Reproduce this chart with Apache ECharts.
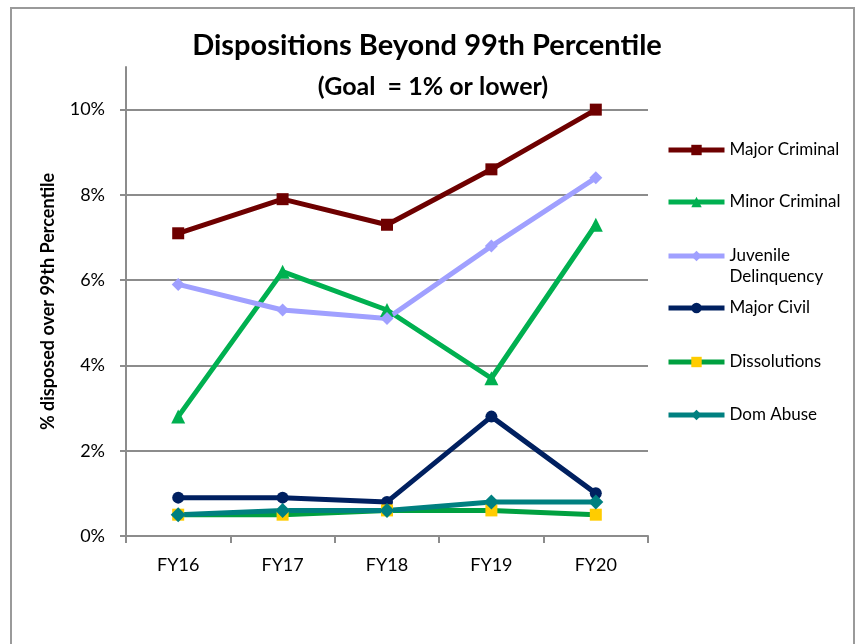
<!DOCTYPE html>
<html>
<head>
<meta charset="utf-8">
<script src="https://cdn.jsdelivr.net/npm/echarts@6/dist/echarts.min.js"></script>
<style>
  html, body { margin: 0; padding: 0; background: #fff; }
  #chart { width: 858px; height: 644px; }
</style>
</head>
<body>
<div id="chart"></div>
<script>
// Fiscal years on the x axis
const categories = ['FY16', 'FY17', 'FY18', 'FY19', 'FY20'];

// Share of dispositions beyond the 99th percentile, in percent
const majorCriminal = [7.1, 7.9, 7.3, 8.6, 10.0];
const minorCriminal = [2.8, 6.2, 5.3, 3.7, 7.3];
const juvenileDelinquency = [5.9, 5.3, 5.1, 6.8, 8.4];
const majorCivil = [0.9, 0.9, 0.8, 2.8, 1.0];
const dissolutions = [0.5, 0.5, 0.6, 0.6, 0.5];
const domAbuse = [0.5, 0.6, 0.6, 0.8, 0.8];

// Labelled y ticks
const yTicks = [0, 2, 4, 6, 8, 10];

const FONT = 'Lato, "Open Sans", sans-serif';
const GRID = '#8c8c8c';

function lineSeries(name, data, lineColor, markColor, symbol, size) {
  return {
    name: name,
    type: 'line',
    data: data,
    symbol: symbol,
    symbolSize: size,
    showSymbol: true,
    lineStyle: { color: lineColor, width: 5 },
    itemStyle: { color: markColor },
    emphasis: { disabled: true }
  };
}

const series = [
  lineSeries('Major Criminal', majorCriminal, '#6e0000', '#6e0000', 'rect', 12),
  lineSeries('Minor Criminal', minorCriminal, '#00b050', '#00b050', 'triangle', 14),
  lineSeries('Juvenile Delinquency', juvenileDelinquency, '#a0a0ff', '#a0a0ff', 'diamond', 13),
  lineSeries('Major Civil', majorCivil, '#002060', '#002060', 'circle', 12),
  lineSeries('Dissolutions', dissolutions, '#00a040', '#ffcc00', 'rect', 12),
  lineSeries('Dom Abuse', domAbuse, '#008080', '#008080', 'diamond', 15)
];

// One legend block per series so the vertical spacing follows the layout on the right
const legendTops = [139.5, 191.5, 224.5, 297.5, 351.5, 404.5];
const legends = series.map(function (s, i) {
  const twoLine = s.name === 'Juvenile Delinquency';
  return {
    data: [s.name],
    orient: 'vertical',
    left: 666,
    top: legendTops[i],
    padding: 0,
    itemWidth: 56,
    itemHeight: 13,
    itemGap: 0,
    selectedMode: false,
    lineStyle: { width: 5 },
    formatter: function (name) {
      // leading empty line keeps the icon level with the first text line
      return twoLine ? '\nJuvenile\nDelinquency' : name;
    },
    textStyle: {
      fontFamily: FONT,
      fontSize: 17,
      color: '#000',
      lineHeight: 21
    }
  };
});

const chart = echarts.init(document.getElementById('chart'), null, { renderer: 'canvas' });
chart.setOption({
  animation: false,
  backgroundColor: '#fff',
  title: [
    {
      text: 'Dispositions Beyond 99th Percentile',
      left: 422,
      top: 26,
      textAlign: 'center',
      textStyle: { fontFamily: FONT, fontSize: 29, fontWeight: 'bold', color: '#000' }
    },
    {
      text: '(Goal  = 1% or lower)',
      left: 428,
      top: 69,
      textAlign: 'center',
      textStyle: { fontFamily: FONT, fontSize: 25, fontWeight: 'bold', color: '#000' }
    }
  ],
  legend: legends,
  grid: { left: 126, right: 210, top: 67, bottom: 108, containLabel: false },
  xAxis: {
    type: 'category',
    data: categories,
    boundaryGap: true,
    axisLine: { lineStyle: { color: GRID, width: 2 } },
    axisTick: { show: true, length: 7, lineStyle: { color: GRID, width: 2 } },
    axisLabel: { fontFamily: FONT, fontSize: 18, color: '#000', margin: 20 },
    splitLine: { show: false }
  },
  yAxis: {
    type: 'value',
    min: 0,
    max: 11,
    interval: 2,
    name: '% disposed over 99th Percentile',
    nameLocation: 'middle',
    nameGap: 69,
    nameRotate: 90,
    nameTextStyle: { fontFamily: FONT, fontSize: 18, fontWeight: 'bold', color: '#000' },
    axisLine: { show: true, lineStyle: { color: GRID, width: 2 } },
    axisTick: { show: true, length: 6, customValues: yTicks, lineStyle: { color: GRID, width: 2 } },
    axisLabel: {
      customValues: yTicks,
      fontFamily: FONT, fontSize: 18, color: '#000', margin: 21,
      formatter: function (v) { return v + '%'; }
    },
    splitLine: { show: true, lineStyle: { color: GRID, width: 2 } }
  },
  graphic: [
    {
      type: 'rect',
      shape: { x: 11, y: 8, width: 843, height: 660 },
      style: { fill: 'none', stroke: '#9a9a9a', lineWidth: 2 },
      silent: true,
      z: -1
    }
  ],
  series: series
});
</script>
</body>
</html>
